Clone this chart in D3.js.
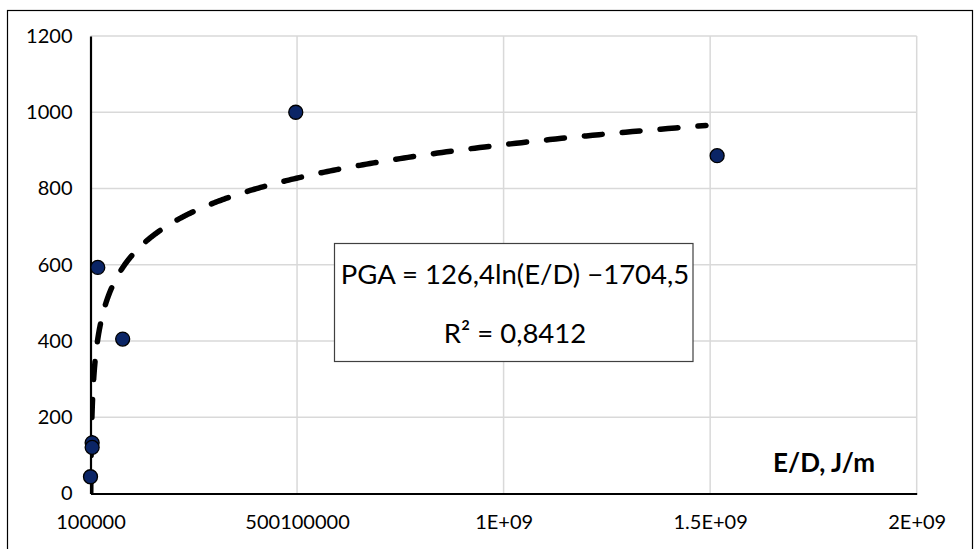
<!DOCTYPE html>
<html><head><meta charset="utf-8">
<script src="https://cdn.jsdelivr.net/npm/d3@7"></script>
<style>
html,body{margin:0;padding:0;background:#fff;}
svg{display:block;}
text{font-family:Lato,"Liberation Sans",sans-serif;fill:#000;}
</style></head>
<body><svg id="c" width="974" height="549"></svg>
<script>
// data
const xValues = [100000, 4100000, 4100000, 17700000, 78000000, 497000000, 1517000000];
const yValues = [44, 133, 121, 593, 405, 1000, 886];
const xTickValues = [100000, 500100000, 1000100000, 1500100000, 2000100000];
const xTickLabels = ["100000", "500100000", "1E+09", "1.5E+09", "2E+09"];
const yTickValues = [0, 200, 400, 600, 800, 1000, 1200];
const trendCoef = [126.4, -1704.5]; // PGA = a ln(E/D) + b
const equationLines = ["PGA = 126,4ln(E/D) \u22121704,5", "R\u00B2 = 0,8412"];
const xAxisTitle = "E/D, J/m";

const svg = d3.select("#c");
const m = {l: 90.5, t: 36, r: 916.7, b: 493.5};
const x = d3.scaleLinear().domain([100000, 2000100000]).range([m.l, m.r]);
const y = d3.scaleLinear().domain([0, 1200]).range([m.b, m.t]);

// outer border
svg.append("rect").attr("x", 7.5).attr("y", 10.5).attr("width", 965).attr("height", 560)
  .attr("fill", "none").attr("stroke", "#000").attr("stroke-width", 1.2);

// gridlines
svg.append("g").selectAll("line").data(yTickValues.slice(1)).join("line")
  .attr("x1", m.l).attr("x2", m.r).attr("y1", d => y(d)).attr("y2", d => y(d))
  .attr("stroke", "#d9d9d9").attr("stroke-width", 1.5);
svg.append("g").selectAll("line").data(xTickValues.slice(1)).join("line")
  .attr("y1", m.t).attr("y2", m.b).attr("x1", d => x(d)).attr("x2", d => x(d))
  .attr("stroke", "#d9d9d9").attr("stroke-width", 1.5);

// axes
const yAx = svg.append("g").attr("transform", `translate(${m.l},0)`)
  .call(d3.axisLeft(y).tickValues(yTickValues).tickSize(0).tickPadding(18).tickFormat(d3.format("d")));
const xAx = svg.append("g").attr("transform", `translate(0,${m.b})`)
  .call(d3.axisBottom(x).tickValues(xTickValues).tickSize(0).tickPadding(21)
    .tickFormat((d, i) => xTickLabels[i]));
[yAx, xAx].forEach(g => {
  g.select(".domain").attr("stroke", "#000").attr("stroke-width", 2.2);
  g.selectAll("text").style("font-family", "Lato, sans-serif").style("font-size", "20px").attr("fill", "#000");
});

// trendline from displayed equation, clipped to plot
svg.append("clipPath").attr("id", "pc").append("rect")
  .attr("x", m.l).attr("y", m.t).attr("width", m.r - m.l).attr("height", m.b - m.t);
const xStart = Math.exp(-trendCoef[1] / trendCoef[0]);
const xEnd = 1490000000;
const trendPts = d3.range(0, 601).map(i => {
  const t = i / 600;
  const xv = Math.exp(Math.log(xStart) + t * (Math.log(xEnd) - Math.log(xStart)));
  return [xv, trendCoef[0] * Math.log(xv) + trendCoef[1]];
});
svg.append("path").datum(trendPts)
  .attr("clip-path", "url(#pc)")
  .attr("d", d3.line().x(d => x(d[0])).y(d => y(d[1])))
  .attr("fill", "none").attr("stroke", "#000").attr("stroke-width", 5.5)
  .attr("stroke-linecap", "round").attr("stroke-dasharray", "18,20");

// points
svg.append("g").selectAll("circle").data(xValues.map((v, i) => [v, yValues[i]])).join("circle")
  .attr("cx", d => x(d[0])).attr("cy", d => y(d[1])).attr("r", 7)
  .attr("fill", "#0b2566").attr("stroke", "#000").attr("stroke-width", 1.3);

// equation box
svg.append("rect").attr("x", 334.5).attr("y", 243.5).attr("width", 358.5).attr("height", 118)
  .attr("fill", "#fff").attr("stroke", "#404040").attr("stroke-width", 1.2);
svg.append("g").selectAll("text").data(equationLines).join("text")
  .attr("x", 515).attr("y", (d, i) => 284 + i * 58.5).attr("text-anchor", "middle")
  .style("font-size", "27.5px").text(d => d);

// axis title
svg.append("text").attr("x", 875).attr("y", 472).attr("text-anchor", "end")
  .style("font-size", "26px").style("font-weight", "bold").text(xAxisTitle);
</script></body></html>
